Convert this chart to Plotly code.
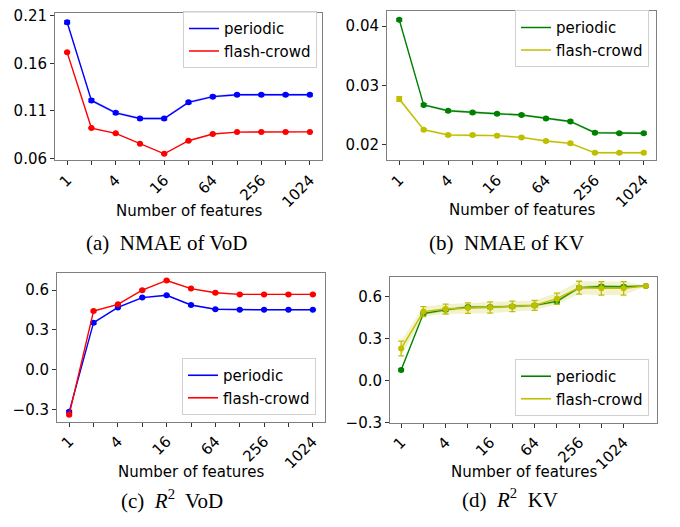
import math
import plotly.graph_objects as go

# ---------------- data ----------------
features = [1, 2, 4, 8, 16, 32, 64, 128, 256, 512, 1024]
features_kv_r2 = [1, 2, 4, 8, 16, 32, 64, 128, 256, 512, 1024, 2048]
tick_vals = [1, 4, 16, 64, 256, 1024]
tick_labels = ["1", "4", "16", "64", "256", "1024"]
minor_tick_vals = [2, 8, 32, 128, 512]

nmae_vod_periodic = [0.203, 0.121, 0.108, 0.102, 0.102, 0.119, 0.125, 0.127, 0.127, 0.127, 0.127]
nmae_vod_periodic_err = [0.0015, 0.0015, 0.0013, 0.0013, 0.0013, 0.0013, 0.0012, 0.0012, 0.0012, 0.0012, 0.0012]
nmae_vod_flash = [0.1715, 0.092, 0.0865, 0.0756, 0.065, 0.0787, 0.0858, 0.0878, 0.088, 0.088, 0.088]
nmae_vod_flash_err = [0.0008, 0.0005, 0.0005, 0.0005, 0.0005, 0.0005, 0.0005, 0.0005, 0.0005, 0.0005, 0.0005]

nmae_kv_periodic = [0.0411, 0.0267, 0.0257, 0.0254, 0.0252, 0.0250, 0.0244, 0.0239, 0.0220, 0.0219, 0.0219]
nmae_kv_periodic_err = [0.0002, 0.0002, 0.0002, 0.0002, 0.0002, 0.0002, 0.0002, 0.0002, 0.0002, 0.0002, 0.0002]
nmae_kv_flash = [0.0277, 0.0225, 0.0216, 0.0216, 0.0215, 0.0212, 0.0206, 0.0202, 0.0186, 0.0186, 0.0186]
nmae_kv_flash_err = [0.0004, 0.0002, 0.0002, 0.0002, 0.0002, 0.0002, 0.0002, 0.0002, 0.0002, 0.0002, 0.0002]

r2_vod_periodic = [-0.317, 0.355, 0.47, 0.544, 0.561, 0.488, 0.456, 0.452, 0.452, 0.452, 0.452]
r2_vod_periodic_err = [0.01, 0.008, 0.006, 0.006, 0.006, 0.006, 0.005, 0.005, 0.005, 0.005, 0.005]
r2_vod_flash = [-0.338, 0.443, 0.493, 0.60, 0.673, 0.612, 0.58, 0.568, 0.568, 0.568, 0.568]
r2_vod_flash_err = [0.008, 0.006, 0.005, 0.005, 0.005, 0.005, 0.005, 0.005, 0.005, 0.005, 0.005]

r2_kv_periodic = [0.076, 0.478, 0.505, 0.524, 0.524, 0.529, 0.536, 0.565, 0.662, 0.671, 0.669, 0.674]
r2_kv_periodic_err = [0.008, 0.01, 0.01, 0.01, 0.01, 0.01, 0.01, 0.01, 0.01, 0.01, 0.01, 0.005]
r2_kv_flash = [0.229, 0.492, 0.51, 0.517, 0.521, 0.529, 0.536, 0.584, 0.662, 0.658, 0.658, 0.674]
r2_kv_flash_err = [0.053, 0.035, 0.035, 0.037, 0.04, 0.037, 0.035, 0.04, 0.046, 0.048, 0.048, 0.004]

BLUE, RED, GREEN, YEL = "#0000ff", "#ff0000", "#008000", "#bfbf00"
BAND = {BLUE: "rgba(0,0,255,0.2)", RED: "rgba(255,0,0,0.2)",
        GREEN: "rgba(0,128,0,0.2)", YEL: "rgba(191,191,0,0.2)"}

fig = go.Figure()


def add_series(x, y, err, color, xa, ya):
    lo = [a - b for a, b in zip(y, err)]
    hi = [a + b for a, b in zip(y, err)]
    fig.add_trace(go.Scatter(x=x, y=lo, mode="lines", line=dict(width=0),
                             showlegend=False, hoverinfo="skip", xaxis=xa, yaxis=ya))
    fig.add_trace(go.Scatter(x=x, y=hi, mode="lines", line=dict(width=0), fill="tonexty",
                             fillcolor=BAND[color], showlegend=False, hoverinfo="skip",
                             xaxis=xa, yaxis=ya))
    fig.add_trace(go.Scatter(x=x, y=y, mode="lines+markers", showlegend=False,
                             line=dict(color=color, width=1.4),
                             marker=dict(color=color, size=6),
                             error_y=dict(type="data", array=err, color=color,
                                          thickness=1.3, width=3),
                             xaxis=xa, yaxis=ya))


def add_legend_entry(color, name, xa, ya, leg):
    fig.add_trace(go.Scatter(x=[None], y=[None], mode="lines", name=name,
                             line=dict(color=color, width=1.6),
                             xaxis=xa, yaxis=ya, legend=leg))


add_series(features, nmae_vod_periodic, nmae_vod_periodic_err, BLUE, "x", "y")
add_series(features, nmae_vod_flash, nmae_vod_flash_err, RED, "x", "y")
add_series(features, nmae_kv_periodic, nmae_kv_periodic_err, GREEN, "x2", "y2")
add_series(features, nmae_kv_flash, nmae_kv_flash_err, YEL, "x2", "y2")
add_series(features, r2_vod_periodic, r2_vod_periodic_err, BLUE, "x3", "y3")
add_series(features, r2_vod_flash, r2_vod_flash_err, RED, "x3", "y3")
add_series(features_kv_r2, r2_kv_periodic, r2_kv_periodic_err, GREEN, "x4", "y4")
add_series(features_kv_r2, r2_kv_flash, r2_kv_flash_err, YEL, "x4", "y4")

for (cp, cf), (xa, ya), leg in [((BLUE, RED), ("x", "y"), "legend"),
                                ((GREEN, YEL), ("x2", "y2"), "legend2"),
                                ((BLUE, RED), ("x3", "y3"), "legend3"),
                                ((GREEN, YEL), ("x4", "y4"), "legend4")]:
    add_legend_entry(cp, "periodic", xa, ya, leg)
    add_legend_entry(cf, "flash-crowd", xa, ya, leg)

W, H = 680, 527
TICKFONT = dict(family="DejaVu Sans", size=15, color="black")


def xaxis(dom, anchor, top_feat):
    return dict(domain=dom, anchor=anchor, type="log",
                range=[math.log10(2 ** -0.5), math.log10(top_feat * 2 ** 0.5)],
                tickvals=tick_vals, ticktext=tick_labels, tickangle=-45,
                ticks="outside", ticklen=4, tickcolor="#333", tickfont=TICKFONT,
                minor=dict(tickvals=minor_tick_vals, ticks="outside", ticklen=4,
                           tickcolor="#333", showgrid=False),
                showline=True, mirror=True, linecolor="#808080", linewidth=1,
                showgrid=False, zeroline=False)


def yaxis(dom, anchor, rng, vals, texts):
    return dict(domain=dom, anchor=anchor, range=rng, tickvals=vals, ticktext=texts,
                ticks="outside", ticklen=4, tickcolor="#333", tickfont=TICKFONT,
                showline=True, mirror=True, linecolor="#808080", linewidth=1,
                showgrid=False, zeroline=False)


def dx(a, b):
    return [a / W, b / W]


def dy(top, bot):
    return [1 - bot / H, 1 - top / H]


r2_ticks = [-0.3, 0.0, 0.3, 0.6]
r2_text = ["\u22120.3", "0.0", "0.3", "0.6"]

fig.update_layout(
    width=W, height=H, margin=dict(l=0, r=0, t=0, b=0),
    paper_bgcolor="white", plot_bgcolor="white",
    xaxis=xaxis(dx(55, 322), "y", 1024),
    yaxis=yaxis(dy(7, 159), "x", [0.058, 0.213], [0.06, 0.11, 0.16, 0.21],
                ["0.06", "0.11", "0.16", "0.21"]),
    xaxis2=xaxis(dx(387, 656), "y2", 1024),
    yaxis2=yaxis(dy(5, 159), "x2", [0.0173, 0.0426], [0.02, 0.03, 0.04],
                 ["0.02", "0.03", "0.04"]),
    xaxis3=xaxis(dx(57, 325), "y3", 1024),
    yaxis3=yaxis(dy(275, 428), "x3", [-0.392, 0.728], r2_ticks, r2_text),
    xaxis4=xaxis(dx(390, 657), "y4", 2048),
    yaxis4=yaxis(dy(279, 429), "x4", [-0.3, 0.738], r2_ticks, r2_text),
)

LEGFONT = dict(family="DejaVu Sans", size=15, color="black")


def legend(xr, ybot):
    return dict(x=xr / W, xanchor="right", y=1 - ybot / H, yanchor="bottom",
                bgcolor="rgba(255,255,255,0.8)", traceorder="normal",
                bordercolor="#d0d0d0", borderwidth=1, font=LEGFONT,
                tracegroupgap=0, itemwidth=30)


fig.update_layout(
    legend=legend(317, 64),
    legend2=legend(649, 63),
    legend3=legend(316, 421),
    legend4=legend(649, 422),
)

ann = []
for cx, cy in [(189, 211), (522, 210), (191, 480), (524, 480)]:
    ann.append(dict(text="Number of features", x=cx / W, y=1 - cy / H, xref="paper", yref="paper",
                    showarrow=False, xanchor="center", yanchor="middle",
                    font=dict(family="DejaVu Sans", size=15, color="black")))
captions = ["(a)  NMAE of VoD", "(b)  NMAE of KV", "(c)  <i>R</i><sup>2</sup>  VoD", "(d)  <i>R</i><sup>2</sup>  KV"]
for (cx, cy), t in zip([(166, 244), (506, 244), (172, 508), (510, 507)], captions):
    ann.append(dict(text=t, x=cx / W, y=1 - cy / H, xref="paper", yref="paper",
                    showarrow=False, xanchor="center", yanchor="middle",
                    font=dict(family="Liberation Serif", size=21, color="black")))
fig.update_layout(annotations=ann)

fig.write_html("out.html", config={"displayModeBar": False},
               post_script="document.body.style.margin='0';document.body.style.overflow='hidden';")
